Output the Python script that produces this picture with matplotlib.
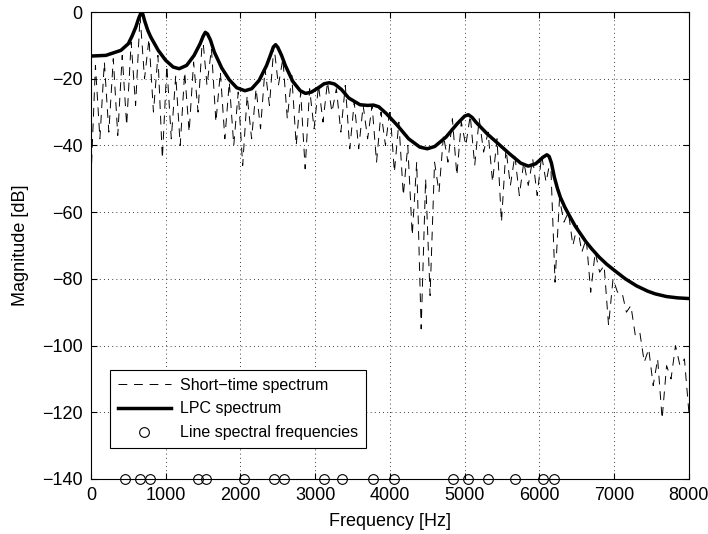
import numpy as np
import matplotlib
matplotlib.use("Agg")
import matplotlib.pyplot as plt

plt.rcParams['font.family'] = ['Liberation Sans', 'DejaVu Sans']

# LPC envelope (Hz, dB)
lpc_freq = [0, 200, 400, 500, 550, 600, 640, 670, 690, 720, 760, 800, 900, 1000, 1100, 1180,
            1280, 1380, 1460, 1500, 1530, 1560, 1600, 1650, 1750, 1850, 1950, 2060, 2150, 2250,
            2350, 2400, 2440, 2470, 2500, 2550, 2600, 2700, 2800, 2870, 2950, 3050, 3120, 3190,
            3260, 3350, 3450, 3600, 3700, 3780, 3850, 3950, 4100, 4250, 4400, 4500, 4600, 4750,
            4900, 5000, 5050, 5100, 5150, 5300, 5450, 5600, 5750, 5850, 5950, 6050, 6100, 6130,
            6160, 6200, 6240, 6280, 6340, 6400, 6480, 6550, 6620, 6700, 6800, 6900, 7000, 7150,
            7300, 7450, 7550, 7700, 7850, 8000]
lpc_db = [-13.2, -13.0, -11.5, -9.5, -7.2, -4.5, -1.8, -0.2, -0.4, -2.8, -5.5, -7.5, -11.5,
          -14.5, -16.5, -17.0, -16.0, -13.0, -9.5, -7.3, -6.1, -6.6, -8.5, -12.0, -16.8, -20.3,
          -22.7, -23.6, -23.0, -20.5, -16.0, -13.0, -10.5, -9.8, -10.6, -13.0, -16.0, -20.8,
          -23.6, -24.4, -24.0, -22.6, -21.5, -21.2, -21.6, -23.2, -25.8, -27.8, -28.0, -27.9,
          -28.4, -30.4, -34.0, -38.0, -40.5, -41.0, -40.3, -37.5, -33.5, -31.2, -30.8, -31.6,
          -33.0, -36.5, -39.5, -42.5, -45.3, -46.2, -45.5, -43.5, -42.8, -43.3, -45.2, -49.5,
          -52.8, -55.5, -58.5, -61.0, -64.2, -66.5, -68.8, -71.0, -73.5, -75.6, -77.4, -80.0,
          -82.1, -83.7, -84.5, -85.3, -85.7, -85.9]

# short-time spectrum, 135 bins from 0 to 8000 Hz (dB)
stft_db = [-50, -16, -38, -15, -36, -14, -37, -13, -34, -9,
           -28, -1, -20, -8, -30, -13, -44, -16, -38, -19,
           -40, -18, -36, -15, -30, -7, -22, -11, -33, -18,
           -38, -21, -40, -24, -46, -25, -38, -23, -35, -17,
           -28, -10, -22, -14, -32, -19, -40, -24, -47, -23,
           -35, -22, -33, -21, -30, -23, -36, -22, -41, -27,
           -41, -28, -38, -28, -45, -30, -40, -29, -48, -33,
           -55, -40, -67, -45, -95, -50, -85, -45, -54, -37,
           -45, -32, -49, -33, -40, -31, -46, -32, -42, -36,
           -51, -38, -63, -41, -52, -43, -55, -45, -52, -44,
           -55, -43, -51, -44, -81, -56, -63, -60, -70, -64,
           -72, -68, -84, -72, -78, -76, -94, -80, -84, -84,
           -90, -88, -97, -96, -105, -101, -112, -104, -122, -106,
           -110, -100, -106, -104, -120]
stft_freq = np.linspace(0, 8000, len(stft_db))

# line spectral frequencies (Hz)
lsf = [455, 656, 790, 1429, 1541, 2044, 2445, 2579, 3117, 3353, 3768, 4060,
       4847, 5048, 5307, 5672, 6051, 6194]

fig = plt.figure(figsize=(7.08, 5.34), dpi=100)
ax = fig.add_axes((0.1285, 0.103, 0.8445, 0.8745))

ax.plot(stft_freq, stft_db, color='k', lw=0.7, linestyle=(0, (9, 7)), label='Short\u2212time spectrum')
ax.plot(lpc_freq, lpc_db, color='k', lw=2.5, label='LPC spectrum')
ax.plot(lsf, np.full(len(lsf), -140), 'o', mfc='none', mec='k', ms=7, mew=0.8,
        clip_on=False, zorder=5, label='Line spectral frequencies')

ax.set_xlim(0, 8000)
ax.set_ylim(-140, 0)
ax.set_xticks(np.arange(0, 8001, 1000))
ax.set_yticks(np.arange(-140, 1, 20))
ax.grid(True, color='k', linestyle=(0, (1, 4)), lw=0.6)
ax.tick_params(direction='in', top=True, right=True, labelsize=13, length=4)
ax.tick_params(axis='x', pad=6)
ax.tick_params(axis='y', pad=6)
for s in ax.spines.values():
    s.set_linewidth(0.8)

ax.set_xlabel('Frequency [Hz]', fontsize=13, labelpad=6)
ax.set_ylabel('Magnitude [dB]', fontsize=13, labelpad=9)

leg = ax.legend(loc='lower left', bbox_to_anchor=(0.032, 0.066), borderaxespad=0,
                fontsize=11.5, fancybox=False, edgecolor='k', framealpha=1,
                handlelength=3.3, borderpad=0.5, labelspacing=0.55, handletextpad=0.55)
leg.get_frame().set_linewidth(0.8)

fig.savefig('out.png', dpi=100)
